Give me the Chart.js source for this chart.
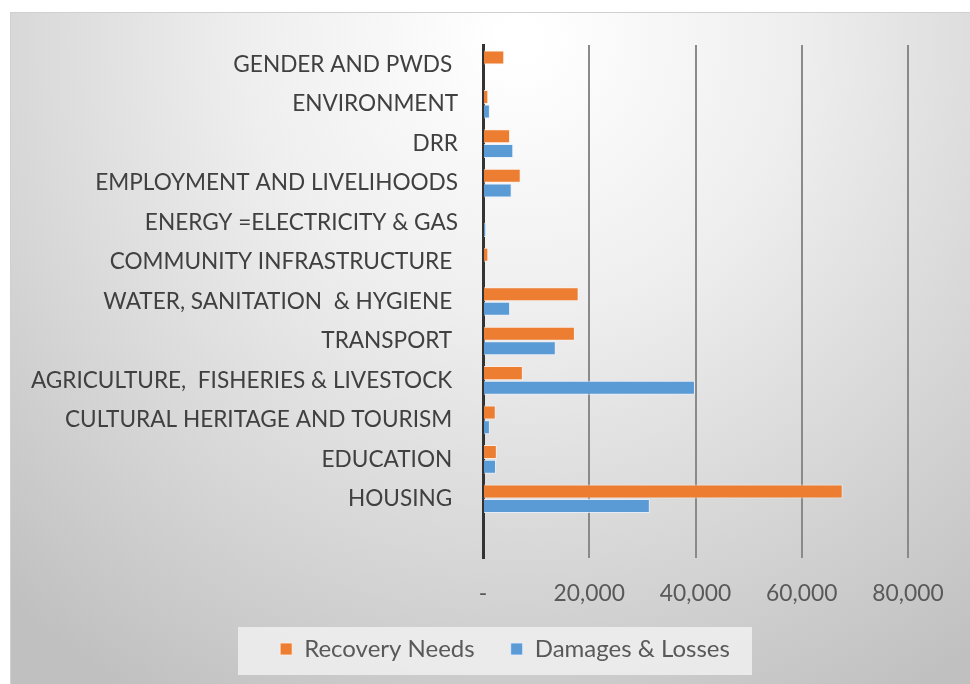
<!DOCTYPE html>
<html>
<head>
<meta charset="utf-8">
<script src="https://cdn.jsdelivr.net/npm/chart.js@4.4.1/dist/chart.umd.min.js"></script>
<style>
html,body{margin:0;padding:0;background:#fff;}
#wrap{width:970px;height:684px;position:relative;}
</style>
</head>
<body>
<div id="wrap"><canvas id="c" width="970" height="684"></canvas></div>
<script>
const categories = [
  "GENDER AND PWDS ",
  "ENVIRONMENT",
  "DRR",
  "EMPLOYMENT AND LIVELIHOODS",
  "ENERGY =ELECTRICITY & GAS",
  "COMMUNITY INFRASTRUCTURE ",
  "WATER, SANITATION  & HYGIENE ",
  "TRANSPORT ",
  "AGRICULTURE,  FISHERIES & LIVESTOCK ",
  "CULTURAL HERITAGE AND TOURISM ",
  "EDUCATION ",
  "HOUSING ",
  ""
];
const recoveryNeeds = [4000, 1000, 5100, 7100, 0, 1000, 18000, 17300, 7500, 2400, 2600, 67700, null];
const damagesLosses = [0, 1300, 5700, 5400, 600, 0, 5100, 13700, 39900, 1300, 2450, 31400, null];
const seriesNames = ["Recovery Needs", "Damages & Losses"];
const xTicks = [0, 20000, 40000, 60000, 80000];

const LEGEND_DX = 46, LEGEND_DY = -13;

const bgPlugin = {
  id: 'bg',
  afterLayout(chart) {
    const lg = chart.legend;
    if (!lg) return;
    lg.left += LEGEND_DX; lg.right += LEGEND_DX;
    lg.top += LEGEND_DY; lg.bottom += LEGEND_DY;
    if (lg.adjustHitBoxes) lg.adjustHitBoxes();
  },
  beforeDraw(chart) {
    const ctx = chart.ctx;
    ctx.save();
    ctx.fillStyle = '#ffffff';
    ctx.fillRect(0, 0, chart.width, chart.height);
    const g = ctx.createRadialGradient(520, 40, 20, 520, 40, 760);
    g.addColorStop(0, '#ffffff');
    g.addColorStop(0.35, '#eeeeee');
    g.addColorStop(1, '#c0c0c0');
    ctx.fillStyle = g;
    ctx.fillRect(10, 12, chart.width - 10, chart.height - 12);
    ctx.strokeStyle = '#d0d0d0';
    ctx.lineWidth = 1;
    ctx.beginPath();
    ctx.moveTo(10, 12.5); ctx.lineTo(chart.width, 12.5);
    ctx.moveTo(10.5, 12); ctx.lineTo(10.5, chart.height);
    ctx.stroke();
    // legend backdrop
    const lg = chart.legend;
    let cy = 648;
    if (lg && isFinite(lg.top)) cy = lg.top + 50;
    ctx.fillStyle = 'rgba(240,240,240,0.85)';
    ctx.fillRect(238, cy - 24, 514, 48);
    ctx.restore();
  }
};

new Chart(document.getElementById('c'), {
  type: 'bar',
  data: {
    labels: categories,
    datasets: [
      { label: seriesNames[0], data: recoveryNeeds, backgroundColor: '#ED7D31', borderColor: 'rgba(255,240,230,0.8)', borderWidth: 1, categoryPercentage: 0.74, barPercentage: 0.96 },
      { label: seriesNames[1], data: damagesLosses, backgroundColor: '#5B9BD5', borderColor: 'rgba(230,240,255,0.8)', borderWidth: 1, categoryPercentage: 0.74, barPercentage: 0.96 }
    ]
  },
  options: {
    indexAxis: 'y',
    responsive: false,
    animation: false,
    devicePixelRatio: 1,
    layout: { padding: { left: 10, right: 62, top: 45, bottom: 0 } },
    scales: {
      x: {
        min: 0, max: 80000,
        afterBuildTicks(scale) { scale.ticks = xTicks.map(v => ({ value: v })); },
        afterFit(scale) { scale.height = 56; },
        grid: { color: '#8a8a8a', lineWidth: 2, drawTicks: false },
        border: { display: false },
        ticks: {
          padding: 24,
          color: '#595959',
          font: { family: 'Lato', size: 22.8, lineHeight: 1 },
          callback: v => v === 0 ? '-' : v.toLocaleString('en-US')
        }
      },
      y: {
        afterFit(scale) { scale.width = 473; },
        grid: { display: false, drawTicks: false },
        border: { display: true, color: '#333333', width: 3 },
        ticks: {
          padding: 25,
          color: '#404040',
          autoSkip: false,
          font: { family: 'Lato', size: 22.6 }
        }
      }
    },
    plugins: {
      legend: {
        position: 'bottom',
        labels: {
          boxWidth: 12, boxHeight: 12, padding: 36,
          color: '#595959',
          font: { family: 'Lato', size: 24 }
        }
      },
      tooltip: { enabled: false }
    }
  },
  plugins: [bgPlugin]
});
</script>
</body>
</html>
